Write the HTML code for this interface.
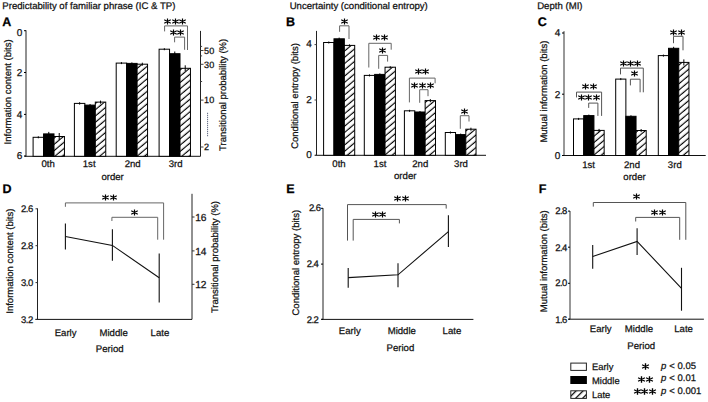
<!DOCTYPE html><html><head><meta charset="utf-8"><style>html,body{margin:0;padding:0;background:#fff;}svg{display:block;}</style></head><body>
<svg width="708" height="402" viewBox="0 0 708 402" font-family='"Liberation Sans", sans-serif' text-rendering="geometricPrecision">
<defs><pattern id="hatch" patternUnits="userSpaceOnUse" width="10" height="4.8" patternTransform="rotate(-40)"><rect width="10" height="4.8" fill="#fff"/><path d="M-1 1.35H11" stroke="#000" stroke-width="1.15"/></pattern><pattern id="hatch2" patternUnits="userSpaceOnUse" width="10" height="4.95" patternTransform="rotate(-45)"><rect width="10" height="4.95" fill="#fff"/><path d="M-1 0.55H11M-1 5.5H11" stroke="#000" stroke-width="1.2"/></pattern></defs>
<rect width="708" height="402" fill="#fff"/>
<text x="2.3" y="8.6" font-size="9.6" text-anchor="start" fill="#111" stroke="#111" stroke-width="0.25">Predictability of familiar phrase (IC &amp; TP)</text>
<text x="289.7" y="8.7" font-size="9.6" text-anchor="start" fill="#111" stroke="#111" stroke-width="0.25">Uncertainty (conditional entropy)</text>
<text x="537.2" y="8.7" font-size="9.6" text-anchor="start" fill="#111" stroke="#111" stroke-width="0.25">Depth (MI)</text>
<text x="2.2" y="25.5" font-size="12.5" text-anchor="start" font-weight="bold" fill="#000" stroke="#000" stroke-width="0.25">A</text>
<text x="285.9" y="25.7" font-size="12.5" text-anchor="start" font-weight="bold" fill="#000" stroke="#000" stroke-width="0.25">B</text>
<text x="537.8" y="26.2" font-size="12.5" text-anchor="start" font-weight="bold" fill="#000" stroke="#000" stroke-width="0.25">C</text>
<text x="2.5" y="192.9" font-size="12.5" text-anchor="start" font-weight="bold" fill="#000" stroke="#000" stroke-width="0.25">D</text>
<text x="286.2" y="192.9" font-size="12.5" text-anchor="start" font-weight="bold" fill="#000" stroke="#000" stroke-width="0.25">E</text>
<text x="538.7" y="192.9" font-size="12.5" text-anchor="start" font-weight="bold" fill="#000" stroke="#000" stroke-width="0.25">F</text>
<line x1="26" y1="30.3" x2="26" y2="156.3" stroke="#222" stroke-width="1"/>
<line x1="24.5" y1="156.3" x2="200.5" y2="156.3" stroke="#111" stroke-width="1"/>
<line x1="200.5" y1="30.9" x2="200.5" y2="156.3" stroke="#222" stroke-width="1"/>
<line x1="24" y1="30.7" x2="26" y2="30.7" stroke="#000" stroke-width="1"/>
<text x="22.2" y="35.9" font-size="10" text-anchor="end" fill="#111" stroke="#111" stroke-width="0.25">0</text>
<line x1="24" y1="72.5" x2="26" y2="72.5" stroke="#000" stroke-width="1"/>
<text x="22.2" y="76.1" font-size="10" text-anchor="end" fill="#111" stroke="#111" stroke-width="0.25">2</text>
<line x1="24" y1="114.4" x2="26" y2="114.4" stroke="#000" stroke-width="1"/>
<text x="22.2" y="118.2" font-size="10" text-anchor="end" fill="#111" stroke="#111" stroke-width="0.25">4</text>
<line x1="24" y1="156" x2="26" y2="156" stroke="#000" stroke-width="1"/>
<text x="22.2" y="158.9" font-size="10" text-anchor="end" fill="#111" stroke="#111" stroke-width="0.25">6</text>
<line x1="200.5" y1="46.4" x2="202.1" y2="46.4" stroke="#444" stroke-width="1"/>
<line x1="200.5" y1="50.5" x2="203.5" y2="50.5" stroke="#444" stroke-width="1"/>
<text x="204.1" y="53.7" font-size="9.1" text-anchor="start" fill="#111" stroke="#111" stroke-width="0.25">50</text>
<line x1="200.5" y1="55.9" x2="202.1" y2="55.9" stroke="#444" stroke-width="1"/>
<line x1="200.5" y1="64.3" x2="203.5" y2="64.3" stroke="#444" stroke-width="1"/>
<text x="204.1" y="67.5" font-size="9.1" text-anchor="start" fill="#111" stroke="#111" stroke-width="0.25">30</text>
<line x1="200.5" y1="81.5" x2="202.1" y2="81.5" stroke="#444" stroke-width="1"/>
<line x1="200.5" y1="100.1" x2="203.5" y2="100.1" stroke="#444" stroke-width="1"/>
<text x="204.1" y="103.3" font-size="9.1" text-anchor="start" fill="#111" stroke="#111" stroke-width="0.25">10</text>
<line x1="200.5" y1="147" x2="203.5" y2="147" stroke="#444" stroke-width="1"/>
<text x="204.1" y="150.2" font-size="9.1" text-anchor="start" fill="#111" stroke="#111" stroke-width="0.25">2</text>
<line x1="207.6" y1="112.8" x2="207.6" y2="137" stroke="#4a5470" stroke-width="1" stroke-dasharray="1.1 0.9"/>
<text x="11.4" y="144.4" font-size="9.5" text-anchor="start" transform="rotate(-90 11.4 144.4)" fill="#111" stroke="#111" stroke-width="0.25">Information content (bits)</text>
<text x="225.7" y="150.9" font-size="9.5" text-anchor="start" transform="rotate(-90 225.7 150.9)" fill="#111" stroke="#111" stroke-width="0.25">Transitional probability (%)</text>
<rect x="33.1" y="137.3" width="10.45" height="19.0" fill="#fff" stroke="#000" stroke-width="1"/>
<line x1="38.325" y1="136.3" x2="38.325" y2="138.3" stroke="#000" stroke-width="1"/>
<rect x="43.55" y="133.9" width="10.45" height="22.400000000000006" fill="#000" stroke="#000" stroke-width="1"/>
<line x1="48.775" y1="131.9" x2="48.775" y2="135.9" stroke="#000" stroke-width="1"/>
<rect x="54.0" y="136.5" width="10.45" height="19.80000000000001" fill="url(#hatch)" stroke="#000" stroke-width="1"/>
<line x1="59.225" y1="133.0" x2="59.225" y2="140.0" stroke="#000" stroke-width="1"/>
<rect x="74.4" y="103.4" width="10.45" height="52.900000000000006" fill="#fff" stroke="#000" stroke-width="1"/>
<line x1="79.625" y1="102.2" x2="79.625" y2="104.60000000000001" stroke="#000" stroke-width="1"/>
<rect x="84.85000000000001" y="105.1" width="10.45" height="51.20000000000002" fill="#000" stroke="#000" stroke-width="1"/>
<line x1="90.075" y1="104.0" x2="90.075" y2="106.19999999999999" stroke="#000" stroke-width="1"/>
<rect x="95.30000000000001" y="102.1" width="10.45" height="54.20000000000002" fill="url(#hatch)" stroke="#000" stroke-width="1"/>
<line x1="100.525" y1="100.6" x2="100.525" y2="103.6" stroke="#000" stroke-width="1"/>
<rect x="116.2" y="63.1" width="10.45" height="93.20000000000002" fill="#fff" stroke="#000" stroke-width="1"/>
<line x1="121.425" y1="62.1" x2="121.425" y2="64.1" stroke="#000" stroke-width="1"/>
<rect x="126.65" y="63.4" width="10.45" height="92.9" fill="#000" stroke="#000" stroke-width="1"/>
<line x1="131.875" y1="62.4" x2="131.875" y2="64.4" stroke="#000" stroke-width="1"/>
<rect x="137.1" y="64.2" width="10.45" height="92.10000000000001" fill="url(#hatch)" stroke="#000" stroke-width="1"/>
<line x1="142.325" y1="62.7" x2="142.325" y2="65.7" stroke="#000" stroke-width="1"/>
<rect x="159.1" y="49.2" width="10.45" height="107.10000000000001" fill="#fff" stroke="#000" stroke-width="1"/>
<line x1="164.325" y1="48.2" x2="164.325" y2="50.2" stroke="#000" stroke-width="1"/>
<rect x="169.54999999999998" y="53.7" width="10.45" height="102.60000000000001" fill="#000" stroke="#000" stroke-width="1"/>
<line x1="174.77499999999998" y1="51.5" x2="174.77499999999998" y2="55.900000000000006" stroke="#000" stroke-width="1"/>
<rect x="180.0" y="68.3" width="10.45" height="88.00000000000001" fill="url(#hatch)" stroke="#000" stroke-width="1"/>
<line x1="185.225" y1="65.3" x2="185.225" y2="71.3" stroke="#000" stroke-width="1"/>
<text x="48.2" y="166.6" font-size="9.6" text-anchor="middle" fill="#111" stroke="#111" stroke-width="0.25">0th</text>
<text x="89.2" y="166.6" font-size="9.6" text-anchor="middle" fill="#111" stroke="#111" stroke-width="0.25">1st</text>
<text x="132.7" y="166.6" font-size="9.6" text-anchor="middle" fill="#111" stroke="#111" stroke-width="0.25">2nd</text>
<text x="175.7" y="166.6" font-size="9.6" text-anchor="middle" fill="#111" stroke="#111" stroke-width="0.25">3rd</text>
<text x="112.6" y="179.5" font-size="9.6" text-anchor="middle" fill="#111" stroke="#111" stroke-width="0.25">order</text>
<polyline points="164.6,31.4 164.6,25.9 187.5,25.9 187.5,50" fill="none" stroke="#666" stroke-width="1"/>
<path d="M167.50 18.60V24.40M164.25 19.81L170.75 23.19M164.25 23.19L170.75 19.81" stroke="#000" stroke-width="1.2" fill="none"/>
<path d="M175.50 18.60V24.40M172.25 19.81L178.75 23.19M172.25 23.19L178.75 19.81" stroke="#000" stroke-width="1.2" fill="none"/>
<path d="M182.50 18.60V24.40M179.25 19.81L185.75 23.19M179.25 23.19L185.75 19.81" stroke="#000" stroke-width="1.2" fill="none"/>
<polyline points="174.6,42.3 174.6,37.1 184.6,37.1 184.6,49.8" fill="none" stroke="#666" stroke-width="1"/>
<path d="M173.50 29.60V35.40M170.25 30.81L176.75 34.19M170.25 34.19L176.75 30.81" stroke="#000" stroke-width="1.2" fill="none"/>
<path d="M180.50 29.60V35.40M177.25 30.81L183.75 34.19M177.25 34.19L183.75 30.81" stroke="#000" stroke-width="1.2" fill="none"/>
<line x1="316.5" y1="30.9" x2="316.5" y2="155.3" stroke="#222" stroke-width="1"/>
<line x1="315.0" y1="155.3" x2="486" y2="155.3" stroke="#111" stroke-width="1"/>
<line x1="314.5" y1="44.6" x2="316.5" y2="44.6" stroke="#444" stroke-width="1"/>
<text x="311.8" y="47.2" font-size="10" text-anchor="end" fill="#111" stroke="#111" stroke-width="0.25">4</text>
<line x1="314.5" y1="100" x2="316.5" y2="100" stroke="#444" stroke-width="1"/>
<text x="311.8" y="102.8" font-size="10" text-anchor="end" fill="#111" stroke="#111" stroke-width="0.25">2</text>
<line x1="314.5" y1="155.3" x2="316.5" y2="155.3" stroke="#444" stroke-width="1"/>
<text x="311.8" y="158.3" font-size="10" text-anchor="end" fill="#111" stroke="#111" stroke-width="0.25">0</text>
<text x="297.9" y="148.8" font-size="9.5" text-anchor="start" transform="rotate(-90 297.9 148.8)" fill="#111" stroke="#111" stroke-width="0.25">Conditional entropy (bits)</text>
<rect x="323.6" y="42.5" width="10.37" height="112.80000000000001" fill="#fff" stroke="#000" stroke-width="1"/>
<line x1="328.785" y1="41.5" x2="328.785" y2="43.5" stroke="#000" stroke-width="1"/>
<rect x="333.97" y="38.8" width="10.37" height="116.50000000000001" fill="#000" stroke="#000" stroke-width="1"/>
<line x1="339.15500000000003" y1="37.599999999999994" x2="339.15500000000003" y2="40.0" stroke="#000" stroke-width="1"/>
<rect x="344.34000000000003" y="45.4" width="10.37" height="109.9" fill="url(#hatch)" stroke="#000" stroke-width="1"/>
<line x1="349.52500000000003" y1="44.4" x2="349.52500000000003" y2="46.4" stroke="#000" stroke-width="1"/>
<rect x="364.3" y="75.4" width="10.37" height="79.9" fill="#fff" stroke="#000" stroke-width="1"/>
<line x1="369.485" y1="74.4" x2="369.485" y2="76.4" stroke="#000" stroke-width="1"/>
<rect x="374.67" y="74.4" width="10.37" height="80.9" fill="#000" stroke="#000" stroke-width="1"/>
<line x1="379.855" y1="73.4" x2="379.855" y2="75.4" stroke="#000" stroke-width="1"/>
<rect x="385.04" y="67.2" width="10.37" height="88.10000000000001" fill="url(#hatch)" stroke="#000" stroke-width="1"/>
<line x1="390.225" y1="66.2" x2="390.225" y2="68.2" stroke="#000" stroke-width="1"/>
<rect x="404.4" y="110.8" width="10.37" height="44.500000000000014" fill="#fff" stroke="#000" stroke-width="1"/>
<line x1="409.585" y1="109.8" x2="409.585" y2="111.8" stroke="#000" stroke-width="1"/>
<rect x="414.77" y="112.0" width="10.37" height="43.30000000000001" fill="#000" stroke="#000" stroke-width="1"/>
<line x1="419.955" y1="111.0" x2="419.955" y2="113.0" stroke="#000" stroke-width="1"/>
<rect x="425.14" y="100.6" width="10.37" height="54.70000000000002" fill="url(#hatch)" stroke="#000" stroke-width="1"/>
<line x1="430.325" y1="99.1" x2="430.325" y2="102.1" stroke="#000" stroke-width="1"/>
<rect x="445.3" y="132.5" width="10.25" height="22.80000000000001" fill="#fff" stroke="#000" stroke-width="1"/>
<line x1="450.425" y1="131.5" x2="450.425" y2="133.5" stroke="#000" stroke-width="1"/>
<rect x="455.55" y="134.6" width="10.25" height="20.700000000000017" fill="#000" stroke="#000" stroke-width="1"/>
<line x1="460.675" y1="133.6" x2="460.675" y2="135.6" stroke="#000" stroke-width="1"/>
<rect x="465.8" y="129.2" width="10.25" height="26.100000000000023" fill="url(#hatch)" stroke="#000" stroke-width="1"/>
<line x1="470.925" y1="127.69999999999999" x2="470.925" y2="130.7" stroke="#000" stroke-width="1"/>
<text x="339.0" y="166.6" font-size="9.6" text-anchor="middle" fill="#111" stroke="#111" stroke-width="0.25">0th</text>
<text x="380.0" y="166.6" font-size="9.6" text-anchor="middle" fill="#111" stroke="#111" stroke-width="0.25">1st</text>
<text x="420.3" y="166.6" font-size="9.6" text-anchor="middle" fill="#111" stroke="#111" stroke-width="0.25">2nd</text>
<text x="461.0" y="166.6" font-size="9.6" text-anchor="middle" fill="#111" stroke="#111" stroke-width="0.25">3rd</text>
<text x="405.2" y="179.3" font-size="9.7" text-anchor="middle" fill="#111" stroke="#111" stroke-width="0.25">order</text>
<polyline points="339.6,31.8 339.6,25.8 349,25.8 349,39.0" fill="none" stroke="#666" stroke-width="1"/>
<path d="M344.50 18.60V24.40M341.25 19.81L347.75 23.19M341.25 23.19L347.75 19.81" stroke="#000" stroke-width="1.2" fill="none"/>
<polyline points="368.8,67.5 368.8,43.3 391.2,43.3 391.2,49.7" fill="none" stroke="#666" stroke-width="1"/>
<path d="M376.50 34.60V40.40M373.25 35.81L379.75 39.19M373.25 39.19L379.75 35.81" stroke="#000" stroke-width="1.2" fill="none"/>
<path d="M384.50 34.60V40.40M381.25 35.81L387.75 39.19M381.25 39.19L387.75 35.81" stroke="#000" stroke-width="1.2" fill="none"/>
<polyline points="378.7,68.8 378.7,55.4 387.6,55.4 387.6,61.6" fill="none" stroke="#666" stroke-width="1"/>
<path d="M382.50 47.60V53.40M379.25 48.81L385.75 52.19M379.25 52.19L385.75 48.81" stroke="#000" stroke-width="1.2" fill="none"/>
<polyline points="409.4,102.4 409.4,78.1 435.1,78.1 435.1,83.3" fill="none" stroke="#666" stroke-width="1"/>
<path d="M418.50 68.60V74.40M415.25 69.81L421.75 73.19M415.25 73.19L421.75 69.81" stroke="#000" stroke-width="1.2" fill="none"/>
<path d="M425.50 68.60V74.40M422.25 69.81L428.75 73.19M422.25 73.19L428.75 69.81" stroke="#000" stroke-width="1.2" fill="none"/>
<path d="M414.50 82.60V88.40M411.25 83.81L417.75 87.19M411.25 87.19L417.75 83.81" stroke="#000" stroke-width="1.2" fill="none"/>
<path d="M422.50 82.60V88.40M419.25 83.81L425.75 87.19M419.25 87.19L425.75 83.81" stroke="#000" stroke-width="1.2" fill="none"/>
<path d="M430.50 82.60V88.40M427.25 83.81L433.75 87.19M427.25 87.19L433.75 83.81" stroke="#000" stroke-width="1.2" fill="none"/>
<polyline points="419.7,102.8 419.7,89.7 428.0,89.7 428.0,96.2" fill="none" stroke="#666" stroke-width="1"/>
<polyline points="460.3,128.8 460.3,115.7 469.0,115.7 469.0,121.5" fill="none" stroke="#666" stroke-width="1"/>
<path d="M464.50 108.60V114.40M461.25 109.81L467.75 113.19M461.25 113.19L467.75 109.81" stroke="#000" stroke-width="1.2" fill="none"/>
<line x1="564.0" y1="31.2" x2="564.0" y2="155.5" stroke="#333" stroke-width="1"/>
<line x1="562.5" y1="155.5" x2="705.7" y2="155.5" stroke="#111" stroke-width="1"/>
<line x1="562.0" y1="33" x2="564.0" y2="33" stroke="#000" stroke-width="1"/>
<text x="560.2" y="36.2" font-size="10" text-anchor="end" fill="#111" stroke="#111" stroke-width="0.25">4</text>
<line x1="562.0" y1="94.2" x2="564.0" y2="94.2" stroke="#000" stroke-width="1"/>
<text x="560.2" y="97.7" font-size="10" text-anchor="end" fill="#111" stroke="#111" stroke-width="0.25">2</text>
<line x1="562.0" y1="155.5" x2="564.0" y2="155.5" stroke="#000" stroke-width="1"/>
<text x="560.2" y="158.6" font-size="10" text-anchor="end" fill="#111" stroke="#111" stroke-width="0.25">0</text>
<text x="547" y="142.6" font-size="9.5" text-anchor="start" transform="rotate(-90 547 142.6)" fill="#111" stroke="#111" stroke-width="0.25">Mutual information (bits)</text>
<rect x="573.5" y="118.9" width="10.22" height="36.599999999999994" fill="#fff" stroke="#000" stroke-width="1"/>
<line x1="578.61" y1="117.9" x2="578.61" y2="119.9" stroke="#000" stroke-width="1"/>
<rect x="583.72" y="115.6" width="10.22" height="39.900000000000006" fill="#000" stroke="#000" stroke-width="1"/>
<line x1="588.83" y1="114.6" x2="588.83" y2="116.6" stroke="#000" stroke-width="1"/>
<rect x="593.94" y="130.4" width="10.22" height="25.099999999999994" fill="url(#hatch)" stroke="#000" stroke-width="1"/>
<line x1="599.0500000000001" y1="128.9" x2="599.0500000000001" y2="131.9" stroke="#000" stroke-width="1"/>
<rect x="615.7" y="79.1" width="10.17" height="76.4" fill="#fff" stroke="#000" stroke-width="1"/>
<line x1="620.7850000000001" y1="78.1" x2="620.7850000000001" y2="80.1" stroke="#000" stroke-width="1"/>
<rect x="625.87" y="116.3" width="10.17" height="39.2" fill="#000" stroke="#000" stroke-width="1"/>
<line x1="630.955" y1="115.3" x2="630.955" y2="117.3" stroke="#000" stroke-width="1"/>
<rect x="636.0400000000001" y="130.5" width="10.17" height="25.0" fill="url(#hatch)" stroke="#000" stroke-width="1"/>
<line x1="641.1250000000001" y1="129.0" x2="641.1250000000001" y2="132.0" stroke="#000" stroke-width="1"/>
<rect x="658.3" y="55.6" width="10.22" height="99.9" fill="#fff" stroke="#000" stroke-width="1"/>
<line x1="663.41" y1="54.6" x2="663.41" y2="56.6" stroke="#000" stroke-width="1"/>
<rect x="668.52" y="48.3" width="10.22" height="107.2" fill="#000" stroke="#000" stroke-width="1"/>
<line x1="673.63" y1="46.8" x2="673.63" y2="49.8" stroke="#000" stroke-width="1"/>
<rect x="678.74" y="62.4" width="10.22" height="93.1" fill="url(#hatch)" stroke="#000" stroke-width="1"/>
<line x1="683.85" y1="59.4" x2="683.85" y2="65.4" stroke="#000" stroke-width="1"/>
<text x="588.6" y="167.5" font-size="9.6" text-anchor="middle" fill="#111" stroke="#111" stroke-width="0.25">1st</text>
<text x="632" y="167.5" font-size="9.6" text-anchor="middle" fill="#111" stroke="#111" stroke-width="0.25">2nd</text>
<text x="674.8" y="167.5" font-size="9.6" text-anchor="middle" fill="#111" stroke="#111" stroke-width="0.25">3rd</text>
<text x="634.5" y="179.9" font-size="9.6" text-anchor="middle" fill="#111" stroke="#111" stroke-width="0.25">order</text>
<polyline points="576.5,97.4 576.5,92.1 601.6,92.1 601.6,115.9" fill="none" stroke="#555" stroke-width="1"/>
<path d="M585.50 83.60V89.40M582.25 84.81L588.75 88.19M582.25 88.19L588.75 84.81" stroke="#000" stroke-width="1.2" fill="none"/>
<path d="M593.50 83.60V89.40M590.25 84.81L596.75 88.19M590.25 88.19L596.75 84.81" stroke="#000" stroke-width="1.2" fill="none"/>
<path d="M581.50 94.60V100.40M578.25 95.81L584.75 99.19M578.25 99.19L584.75 95.81" stroke="#000" stroke-width="1.2" fill="none"/>
<path d="M588.50 94.60V100.40M585.25 95.81L591.75 99.19M585.25 99.19L591.75 95.81" stroke="#000" stroke-width="1.2" fill="none"/>
<path d="M596.50 94.60V100.40M593.25 95.81L599.75 99.19M593.25 99.19L599.75 95.81" stroke="#000" stroke-width="1.2" fill="none"/>
<polyline points="588.7,107.9 588.7,103.1 597.9,103.1 597.9,115.9" fill="none" stroke="#555" stroke-width="1"/>
<polyline points="620.5,74.4 620.5,68.1 643.3,68.1 643.3,92.3" fill="none" stroke="#555" stroke-width="1"/>
<path d="M623.50 60.60V66.40M620.25 61.81L626.75 65.19M620.25 65.19L626.75 61.81" stroke="#000" stroke-width="1.2" fill="none"/>
<path d="M630.50 60.60V66.40M627.25 61.81L633.75 65.19M627.25 65.19L633.75 61.81" stroke="#000" stroke-width="1.2" fill="none"/>
<path d="M637.50 60.60V66.40M634.25 61.81L640.75 65.19M634.25 65.19L640.75 61.81" stroke="#000" stroke-width="1.2" fill="none"/>
<polyline points="630.4,85.4 630.4,79.2 640.1,79.2 640.1,92.3" fill="none" stroke="#555" stroke-width="1"/>
<path d="M634.50 70.60V76.40M631.25 71.81L637.75 75.19M631.25 75.19L637.75 71.81" stroke="#000" stroke-width="1.2" fill="none"/>
<polyline points="673.5,43.2 673.5,36.3 683.0,36.3 683.0,50.3" fill="none" stroke="#555" stroke-width="1"/>
<path d="M673.50 29.60V35.40M670.25 30.81L676.75 34.19M670.25 34.19L676.75 30.81" stroke="#000" stroke-width="1.2" fill="none"/>
<path d="M681.50 29.60V35.40M678.25 30.81L684.75 34.19M678.25 34.19L684.75 30.81" stroke="#000" stroke-width="1.2" fill="none"/>
<line x1="37.5" y1="208.4" x2="37.5" y2="319.4" stroke="#222" stroke-width="1"/>
<line x1="35.5" y1="319.4" x2="192" y2="319.4" stroke="#111" stroke-width="1"/>
<line x1="192" y1="193.8" x2="192" y2="319.4" stroke="#222" stroke-width="1"/>
<line x1="35.5" y1="208.8" x2="37.5" y2="208.8" stroke="#333" stroke-width="1"/>
<text x="32.65" y="212.4" font-size="9.5" text-anchor="end" letter-spacing="-0.55" fill="#111" stroke="#111" stroke-width="0.25">2.6</text>
<line x1="35.5" y1="245.7" x2="37.5" y2="245.7" stroke="#333" stroke-width="1"/>
<text x="32.65" y="248.9" font-size="9.5" text-anchor="end" letter-spacing="-0.55" fill="#111" stroke="#111" stroke-width="0.25">2.8</text>
<line x1="35.5" y1="282.6" x2="37.5" y2="282.6" stroke="#333" stroke-width="1"/>
<text x="32.65" y="285.7" font-size="9.5" text-anchor="end" letter-spacing="-0.55" fill="#111" stroke="#111" stroke-width="0.25">3.0</text>
<line x1="35.5" y1="319.4" x2="37.5" y2="319.4" stroke="#333" stroke-width="1"/>
<text x="32.65" y="322.5" font-size="9.5" text-anchor="end" letter-spacing="-0.55" fill="#111" stroke="#111" stroke-width="0.25">3.2</text>
<line x1="192" y1="217" x2="194.5" y2="217" stroke="#333" stroke-width="1"/>
<text x="195.2" y="220.7" font-size="10.2" text-anchor="start" fill="#111" stroke="#111" stroke-width="0.25">16</text>
<line x1="192" y1="250.9" x2="194.5" y2="250.9" stroke="#333" stroke-width="1"/>
<text x="195.2" y="254.6" font-size="10.2" text-anchor="start" fill="#111" stroke="#111" stroke-width="0.25">14</text>
<line x1="192" y1="284.3" x2="194.5" y2="284.3" stroke="#333" stroke-width="1"/>
<text x="195.2" y="288.0" font-size="10.2" text-anchor="start" fill="#111" stroke="#111" stroke-width="0.25">12</text>
<text x="13.4" y="313.7" font-size="9.5" text-anchor="start" transform="rotate(-90 13.4 313.7)" fill="#111" stroke="#111" stroke-width="0.25">Information content (bits)</text>
<text x="218.2" y="313.1" font-size="9.5" text-anchor="start" transform="rotate(-90 218.2 313.1)" fill="#111" stroke="#111" stroke-width="0.25">Transitional probability (%)</text>
<polyline points="65.4,236.5 112.4,245.4 159.2,277.8" fill="none" stroke="#111" stroke-width="1.1"/>
<line x1="65.4" y1="223.5" x2="65.4" y2="249.6" stroke="#111" stroke-width="1.1"/>
<line x1="112.4" y1="229.3" x2="112.4" y2="260.8" stroke="#111" stroke-width="1.1"/>
<line x1="159.2" y1="253.6" x2="159.2" y2="302.5" stroke="#111" stroke-width="1.1"/>
<polyline points="65.4,206.8 65.4,202.9 163.6,202.9 163.6,239.7" fill="none" stroke="#666" stroke-width="1"/>
<path d="M105.50 194.60V200.40M102.25 195.81L108.75 199.19M102.25 199.19L108.75 195.81" stroke="#000" stroke-width="1.2" fill="none"/>
<path d="M113.50 194.60V200.40M110.25 195.81L116.75 199.19M110.25 199.19L116.75 195.81" stroke="#000" stroke-width="1.2" fill="none"/>
<polyline points="111.9,221 111.9,217.3 157.7,217.3 157.7,239.7" fill="none" stroke="#666" stroke-width="1"/>
<path d="M134.50 209.60V215.40M131.25 210.81L137.75 214.19M131.25 214.19L137.75 210.81" stroke="#000" stroke-width="1.2" fill="none"/>
<text x="65.6" y="336" font-size="9.6" text-anchor="middle" fill="#111" stroke="#111" stroke-width="0.25">Early</text>
<text x="113.6" y="336" font-size="9.6" text-anchor="middle" fill="#111" stroke="#111" stroke-width="0.25">Middle</text>
<text x="159.9" y="336" font-size="9.6" text-anchor="middle" fill="#111" stroke="#111" stroke-width="0.25">Late</text>
<text x="109.7" y="352.4" font-size="9.6" text-anchor="middle" fill="#111" stroke="#111" stroke-width="0.25">Period</text>
<line x1="323" y1="208.1" x2="323" y2="319.4" stroke="#222" stroke-width="1"/>
<line x1="321.5" y1="319.4" x2="473.4" y2="319.4" stroke="#111" stroke-width="1"/>
<line x1="321" y1="208.3" x2="323" y2="208.3" stroke="#000" stroke-width="1"/>
<text x="320.45" y="211.3" font-size="9.5" text-anchor="end" letter-spacing="-0.55" fill="#111" stroke="#111" stroke-width="0.25">2.6</text>
<line x1="321" y1="264.1" x2="323" y2="264.1" stroke="#000" stroke-width="1"/>
<text x="318.35" y="266.7" font-size="9.5" text-anchor="end" letter-spacing="-0.55" fill="#111" stroke="#111" stroke-width="0.25">2.4</text>
<line x1="321" y1="319.3" x2="323" y2="319.3" stroke="#000" stroke-width="1"/>
<text x="318.35" y="322.7" font-size="9.5" text-anchor="end" letter-spacing="-0.55" fill="#111" stroke="#111" stroke-width="0.25">2.2</text>
<text x="299.4" y="315.5" font-size="9.5" text-anchor="start" transform="rotate(-90 299.4 315.5)" fill="#111" stroke="#111" stroke-width="0.25">Conditional entropy (bits)</text>
<polyline points="348.2,277.6 398,274.8 448.4,231.6" fill="none" stroke="#111" stroke-width="1.1"/>
<line x1="348.2" y1="268" x2="348.2" y2="287.7" stroke="#111" stroke-width="1.1"/>
<line x1="398" y1="263.3" x2="398" y2="287.2" stroke="#111" stroke-width="1.1"/>
<line x1="448.4" y1="215.2" x2="448.4" y2="246.9" stroke="#111" stroke-width="1.1"/>
<polyline points="347.5,240.6 347.5,204.6 446.2,204.6 446.2,208.6" fill="none" stroke="#555" stroke-width="1"/>
<path d="M397.50 195.60V201.40M394.25 196.81L400.75 200.19M394.25 200.19L400.75 196.81" stroke="#000" stroke-width="1.2" fill="none"/>
<path d="M405.50 195.60V201.40M402.25 196.81L408.75 200.19M402.25 200.19L408.75 196.81" stroke="#000" stroke-width="1.2" fill="none"/>
<polyline points="353.2,240.6 353.2,219.4 399.4,219.4 399.4,223.4" fill="none" stroke="#555" stroke-width="1"/>
<path d="M375.50 211.60V217.40M372.25 212.81L378.75 216.19M372.25 216.19L378.75 212.81" stroke="#000" stroke-width="1.2" fill="none"/>
<path d="M382.50 211.60V217.40M379.25 212.81L385.75 216.19M379.25 216.19L385.75 212.81" stroke="#000" stroke-width="1.2" fill="none"/>
<text x="349.8" y="333.9" font-size="9.6" text-anchor="middle" fill="#111" stroke="#111" stroke-width="0.25">Early</text>
<text x="401.8" y="333.9" font-size="9.6" text-anchor="middle" fill="#111" stroke="#111" stroke-width="0.25">Middle</text>
<text x="451.9" y="333.9" font-size="9.6" text-anchor="middle" fill="#111" stroke="#111" stroke-width="0.25">Late</text>
<text x="400.4" y="350.5" font-size="9.6" text-anchor="middle" fill="#111" stroke="#111" stroke-width="0.25">Period</text>
<line x1="570.0" y1="211" x2="570.0" y2="319.2" stroke="#333" stroke-width="1"/>
<line x1="568.5" y1="319.2" x2="703.9" y2="319.2" stroke="#111" stroke-width="1"/>
<line x1="568.0" y1="211.1" x2="570.0" y2="211.1" stroke="#000" stroke-width="1"/>
<text x="566.75" y="213.6" font-size="9.5" text-anchor="end" letter-spacing="-0.55" fill="#111" stroke="#111" stroke-width="0.25">2.8</text>
<line x1="568.0" y1="247.2" x2="570.0" y2="247.2" stroke="#000" stroke-width="1"/>
<text x="566.75" y="250.6" font-size="9.5" text-anchor="end" letter-spacing="-0.55" fill="#111" stroke="#111" stroke-width="0.25">2.4</text>
<line x1="568.0" y1="283.3" x2="570.0" y2="283.3" stroke="#000" stroke-width="1"/>
<text x="566.75" y="285.6" font-size="9.5" text-anchor="end" letter-spacing="-0.55" fill="#111" stroke="#111" stroke-width="0.25">2.0</text>
<line x1="568.0" y1="319.2" x2="570.0" y2="319.2" stroke="#000" stroke-width="1"/>
<text x="566.75" y="322.7" font-size="9.5" text-anchor="end" letter-spacing="-0.55" fill="#111" stroke="#111" stroke-width="0.25">1.6</text>
<text x="547" y="312.2" font-size="9.5" text-anchor="start" transform="rotate(-90 547 312.2)" fill="#111" stroke="#111" stroke-width="0.25">Mutual information (bits)</text>
<polyline points="592.7,256.5 637.1,241.4 681.5,288.3" fill="none" stroke="#111" stroke-width="1.1"/>
<line x1="592.7" y1="244.9" x2="592.7" y2="268.8" stroke="#111" stroke-width="1.1"/>
<line x1="637.1" y1="228.3" x2="637.1" y2="255.1" stroke="#111" stroke-width="1.1"/>
<line x1="681.5" y1="267.8" x2="681.5" y2="310.7" stroke="#111" stroke-width="1.1"/>
<polyline points="593.3,206.6 593.3,202.5 685.8,202.5 685.8,239.8" fill="none" stroke="#555" stroke-width="1"/>
<path d="M636.50 193.60V199.40M633.25 194.81L639.75 198.19M633.25 198.19L639.75 194.81" stroke="#000" stroke-width="1.2" fill="none"/>
<polyline points="635.7,221.5 635.7,217.4 679.7,217.4 679.7,239.8" fill="none" stroke="#555" stroke-width="1"/>
<path d="M654.50 209.60V215.40M651.25 210.81L657.75 214.19M651.25 214.19L657.75 210.81" stroke="#000" stroke-width="1.2" fill="none"/>
<path d="M662.50 209.60V215.40M659.25 210.81L665.75 214.19M659.25 214.19L665.75 210.81" stroke="#000" stroke-width="1.2" fill="none"/>
<text x="600.7" y="332.4" font-size="9.6" text-anchor="middle" fill="#111" stroke="#111" stroke-width="0.25">Early</text>
<text x="639" y="332.4" font-size="9.6" text-anchor="middle" fill="#111" stroke="#111" stroke-width="0.25">Middle</text>
<text x="683.6" y="332.4" font-size="9.6" text-anchor="middle" fill="#111" stroke="#111" stroke-width="0.25">Late</text>
<text x="641.2" y="348.6" font-size="9.6" text-anchor="middle" fill="#111" stroke="#111" stroke-width="0.25">Period</text>
<rect x="570.8" y="363.1" width="15.6" height="7.3" fill="#fff" stroke="#222" stroke-width="1"/>
<rect x="570.3" y="376" width="16.6" height="8" fill="#000"/>
<rect x="570.8" y="390.8" width="15.6" height="7.6" fill="url(#hatch2)" stroke="#222" stroke-width="1"/>
<text x="592" y="369.5" font-size="9.4" text-anchor="start" fill="#111" stroke="#111" stroke-width="0.25">Early</text>
<text x="592" y="383.5" font-size="9.4" text-anchor="start" fill="#111" stroke="#111" stroke-width="0.25">Middle</text>
<text x="592" y="398.3" font-size="9.4" text-anchor="start" fill="#111" stroke="#111" stroke-width="0.25">Late</text>
<path d="M645.50 363.20V369.80M642.10 364.73L648.90 368.27M642.10 368.27L648.90 364.73" stroke="#000" stroke-width="1.35" fill="none"/>
<path d="M641.50 376.20V382.80M638.10 377.73L644.90 381.27M638.10 381.27L644.90 377.73" stroke="#000" stroke-width="1.35" fill="none"/>
<path d="M649.50 376.20V382.80M646.10 377.73L652.90 381.27M646.10 381.27L652.90 377.73" stroke="#000" stroke-width="1.35" fill="none"/>
<path d="M637.50 388.20V394.80M634.10 389.73L640.90 393.27M634.10 393.27L640.90 389.73" stroke="#000" stroke-width="1.35" fill="none"/>
<path d="M644.50 388.20V394.80M641.10 389.73L647.90 393.27M641.10 393.27L647.90 389.73" stroke="#000" stroke-width="1.35" fill="none"/>
<path d="M652.50 388.20V394.80M649.10 389.73L655.90 393.27M649.10 393.27L655.90 389.73" stroke="#000" stroke-width="1.35" fill="none"/>
<text x="660.9" y="368.8" font-size="9.5" text-anchor="start" font-style="italic" fill="#111" stroke="#111" stroke-width="0.25">p</text>
<text x="669.3" y="368.8" font-size="9.5" text-anchor="start" fill="#111" stroke="#111" stroke-width="0.25">&lt;</text>
<text x="677.5" y="368.8" font-size="9.5" text-anchor="start" fill="#111" stroke="#111" stroke-width="0.25">0.05</text>
<text x="660.9" y="381.0" font-size="9.5" text-anchor="start" font-style="italic" fill="#111" stroke="#111" stroke-width="0.25">p</text>
<text x="669.3" y="381.0" font-size="9.5" text-anchor="start" fill="#111" stroke="#111" stroke-width="0.25">&lt;</text>
<text x="677.5" y="381.0" font-size="9.5" text-anchor="start" fill="#111" stroke="#111" stroke-width="0.25">0.01</text>
<text x="660.9" y="394.0" font-size="9.5" text-anchor="start" font-style="italic" fill="#111" stroke="#111" stroke-width="0.25">p</text>
<text x="669.3" y="394.0" font-size="9.5" text-anchor="start" fill="#111" stroke="#111" stroke-width="0.25">&lt;</text>
<text x="677.5" y="394.0" font-size="9.5" text-anchor="start" fill="#111" stroke="#111" stroke-width="0.25">0.001</text>
</svg></body></html>
